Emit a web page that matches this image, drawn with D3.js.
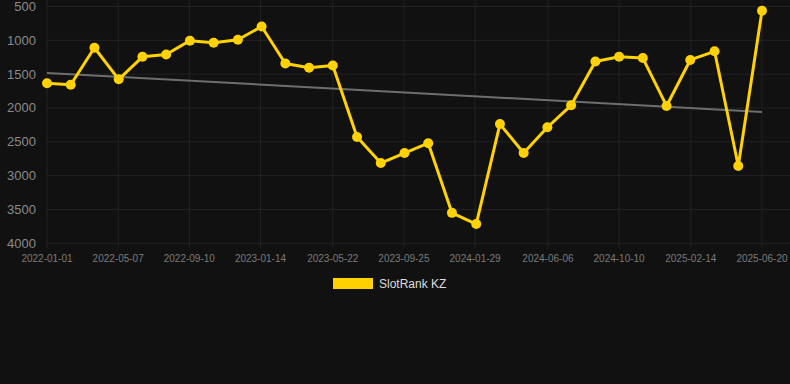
<!DOCTYPE html>
<html>
<head>
<meta charset="utf-8">
<script src="https://cdn.jsdelivr.net/npm/d3@7"></script>
<style>
    body { margin: 0; background: #111111; }
    svg { display: block; font-family: "Liberation Sans", Arial, sans-serif; }
</style>
</head>
<body>
<svg id="chart_svg" width="790" height="384"></svg>
<script>
// rank values, one every ~6 weeks
const dates = ["2022-01-01", "2022-02-12", "2022-03-26", "2022-05-08", "2022-06-19", "2022-07-31",
    "2022-09-11", "2022-10-23", "2022-12-05", "2023-01-16", "2023-02-27", "2023-04-10",
    "2023-05-22", "2023-07-04", "2023-08-15", "2023-09-26", "2023-11-07", "2023-12-19",
    "2024-01-31", "2024-03-13", "2024-04-24", "2024-06-05", "2024-07-17", "2024-08-29",
    "2024-10-10", "2024-11-21", "2025-01-02", "2025-02-13", "2025-03-28", "2025-05-09",
    "2025-06-20"];
const ranks = [1635, 1656, 1110, 1576, 1244, 1210, 1005, 1035, 992, 795, 1342, 1406,
    1372, 2430, 2814, 2666, 2520, 3550, 3716, 2238, 2666, 2285, 1960, 1312,
    1242, 1262, 1970, 1290, 1162, 2858, 563];

// trend line endpoints (first and last date)
const trendValues = [1482, 2059];

const xTickLabels = ["2022-01-01", "2022-05-07", "2022-09-10", "2023-01-14", "2023-05-22",
    "2023-09-25", "2024-01-29", "2024-06-06", "2024-10-10", "2025-02-14", "2025-06-20"];
const yTicks = [500, 1000, 1500, 2000, 2500, 3000, 3500, 4000];

const seriesName = "SlotRank KZ";

class RankChart {
    constructor(svg_elem) {
        this.svg = svg_elem;
        this.left = 47;
        this.right = 762;
        this.top = 6.5;
        this.bottom = 243.3;

        let parse = d3.timeParse("%Y-%m-%d");
        this.points = dates.map(function (d, i) { return { date: parse(d), rank: ranks[i] }; });
        this.ticks = xTickLabels.map(function (d) { return { date: parse(d), label: d }; });

        this.x = d3.scaleTime()
            .domain([parse(dates[0]), parse(dates[dates.length - 1])])
            .range([this.left, this.right]);

        // rank 1 is best, so the axis runs upside down
        this.y = d3.scaleLinear()
            .domain([500, 4000])
            .range([this.top, this.bottom]);
    }

    drawGrid() {
        let x = this.x, y = this.y;
        let grid = this.svg.append("g");

        grid.selectAll(".hgrid")
            .data(yTicks)
            .enter().append("line")
            .attr("class", "hgrid")
            .attr("x1", this.left)
            .attr("x2", this.right + 28)
            .attr("y1", function (d) { return y(d); })
            .attr("y2", function (d) { return y(d); })
            .attr("stroke", "#222222")
            .attr("stroke-width", 1);

        grid.selectAll(".vgrid")
            .data(this.ticks)
            .enter().append("line")
            .attr("class", "vgrid")
            .attr("x1", function (d) { return x(d.date); })
            .attr("x2", function (d) { return x(d.date); })
            .attr("y1", 0)
            .attr("y2", this.bottom + 5)
            .attr("stroke", "#222222")
            .attr("stroke-width", 1);

        // y axis labels
        grid.selectAll(".ylabel")
            .data(yTicks)
            .enter().append("text")
            .attr("class", "ylabel")
            .attr("x", 36)
            .attr("y", function (d) { return y(d); })
            .attr("dominant-baseline", "central")
            .attr("text-anchor", "end")
            .attr("fill", "#8a8a8a")
            .style("font-size", "13px")
            .text(function (d) { return d; });

        // x axis labels
        grid.selectAll(".xlabel")
            .data(this.ticks)
            .enter().append("text")
            .attr("class", "xlabel")
            .attr("x", function (d) { return x(d.date); })
            .attr("y", this.bottom + 16)
            .attr("dominant-baseline", "middle")
            .attr("text-anchor", "middle")
            .attr("fill", "#7a7a7a")
            .style("font-size", "10px")
            .text(function (d) { return d.label; });
    }

    drawTrend() {
        let first = this.points[0].date;
        let last = this.points[this.points.length - 1].date;
        this.svg.append("line")
            .attr("x1", this.x(first))
            .attr("y1", this.y(trendValues[0]))
            .attr("x2", this.x(last))
            .attr("y2", this.y(trendValues[1]))
            .attr("stroke", "#6e6e6e")
            .attr("stroke-width", 2);
    }

    drawSeries() {
        let x = this.x, y = this.y;
        let line = d3.line()
            .x(function (d) { return x(d.date); })
            .y(function (d) { return y(d.rank); });

        this.svg.append("path")
            .datum(this.points)
            .attr("d", line)
            .attr("fill", "none")
            .attr("stroke", "#FFD200")
            .attr("stroke-width", 3)
            .attr("stroke-linejoin", "round");

        this.svg.selectAll(".dot")
            .data(this.points)
            .enter().append("circle")
            .attr("class", "dot")
            .attr("cx", function (d) { return x(d.date); })
            .attr("cy", function (d) { return y(d.rank); })
            .attr("r", 5)
            .attr("fill", "#FFD200");
    }

    drawLegend() {
        let legend = this.svg.append("g")
            .attr("transform", "translate(333,278)");

        legend.append("rect")
            .attr("x", 0)
            .attr("y", 0)
            .attr("width", 40)
            .attr("height", 11)
            .attr("fill", "#FFD200");

        legend.append("text")
            .attr("x", 46)
            .attr("y", 6)
            .attr("dominant-baseline", "central")
            .attr("fill", "#dddddd")
            .style("font-size", "12px")
            .text(seriesName);
    }

    render() {
        this.drawGrid();
        this.drawTrend();
        this.drawSeries();
        this.drawLegend();
    }
}

const vis = new RankChart(d3.select("#chart_svg"));
vis.render();
</script>
</body>
</html>
